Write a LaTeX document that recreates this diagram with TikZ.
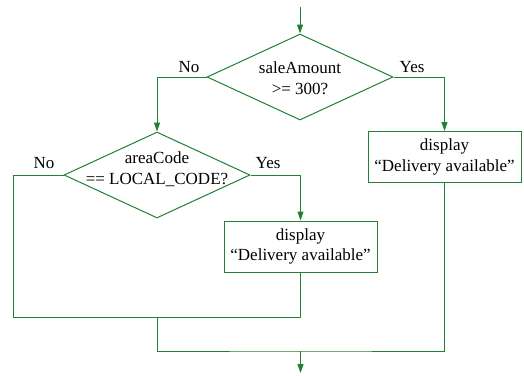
\documentclass[tikz,border=0pt]{standalone}
\usepackage{fontspec}
\setmainfont{LiberationSerif}[Extension=.ttf,UprightFont=*-Regular,BoldFont=*-Bold,ItalicFont=*-Italic]
\usetikzlibrary{shapes.geometric,arrows.meta,positioning}
\definecolor{flowgreen}{RGB}{32,128,52}
\tikzset{
  flowLine/.style={draw=flowgreen,line width=1pt},
  flowArrow/.style={flowLine,-{Triangle[length=9pt,width=6pt]}},
  decisionNode/.style={diamond,draw=flowgreen,line width=1pt,inner sep=0pt,minimum width=186pt,minimum height=86pt},
  actionBox/.style={rectangle,draw=flowgreen,line width=1pt,inner sep=0pt,minimum width=153pt,minimum height=51pt,align=center},
  stepText/.style={align=center,inner sep=0pt},
  branchLabel/.style={inner sep=0pt},
}
\newcommand{\flowFont}{\rmfamily\fontsize{17}{20.5}\selectfont}

\begin{document}
\begin{tikzpicture}[x=1pt,y=-1pt,font=\flowFont]
  \useasboundingbox (0,0) rectangle (524,375);

  \coordinate (start) at (300,7);
  \node[decisionNode] at (300,77) (amount) {};
  \node[stepText] at (300,78) (amountText) {saleAmount\\>= 300?};
  \node[decisionNode] at (157,175) (area) {};
  \node[stepText] at (157,169) (areaText) {areaCode\\== LOCAL\_CODE?};

  \node[actionBox] at (444.5,157) (deliveryFar) {display\\``Delivery available''};
  \node[actionBox] at (300.5,246.5) (deliveryLocal) {display\\``Delivery available''};

  \node[branchLabel,anchor=base east] at ([xshift=-7pt,yshift=5pt]amount.west) (amountNo) {No};
  \node[branchLabel,anchor=base west] at ([xshift=6pt,yshift=5pt]amount.east) (amountYes) {Yes};
  \node[branchLabel,anchor=base east] at ([xshift=-9pt,yshift=7pt]area.west) (areaNo) {No};
  \node[branchLabel,anchor=base west] at ([xshift=5pt,yshift=7pt]area.east) (areaYes) {Yes};

  \coordinate (noCorner) at (13,317);
  \coordinate (innerJoin) at (157,317);
  \coordinate (outerJoin) at (300.5,351);
  \coordinate (finish) at (300.5,373);

  \draw[flowArrow] (start) -- (amount.north);
  \draw[flowArrow] (amount.west) -| (area.north);
  \draw[flowArrow] (amount.east) -| (deliveryFar.north);
  \draw[flowArrow] (area.east) -| (deliveryLocal.north);

  \draw[flowLine] (area.west) -| (noCorner) -| (deliveryLocal.south);
  \draw[flowLine] (innerJoin) |- (outerJoin) -| (deliveryFar.south);
  \draw[flowArrow] (outerJoin) -- (finish);
\end{tikzpicture}
\end{document}
